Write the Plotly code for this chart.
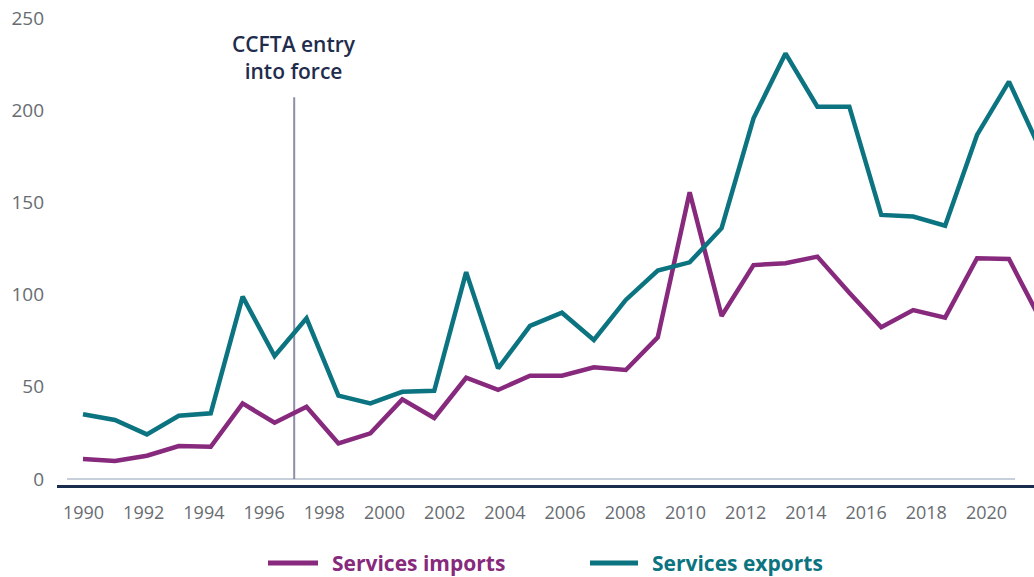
import plotly.graph_objects as go

# Canada–Chile trade in services, 1990–2020
years = list(range(1990, 2021))
services_imports = [10.8, 9.8, 12.6, 17.9, 17.5, 41.0, 30.5, 39.2, 19.3, 24.8,
                    43.2, 33.1, 54.9, 48.3, 56.0, 56.0, 60.6, 59.1, 76.8, 155.5,
                    88.4, 116.0, 117.0, 120.6, 101.0, 82.3, 91.6, 87.5, 119.7, 119.3,
                    86.0]
services_exports = [35.1, 32.0, 24.2, 34.3, 35.6, 98.9, 66.7, 87.1, 45.2, 41.0,
                    47.3, 47.8, 112.2, 60.0, 83.0, 90.2, 75.4, 97.1, 113.0, 117.5,
                    136.0, 195.6, 230.8, 201.9, 201.9, 143.2, 142.3, 137.4, 186.6, 215.5,
                    178.0]
tick_years = list(range(1990, 2021, 2))
y_ticks = [0, 50, 100, 150, 200, 250]
event_year = 1997
event_label = "CCFTA entry<br>into force"

PURPLE = "#87297c"
TEAL = "#0b7480"
NAVY = "#1b2d4f"
GREY = "#686c71"
FONT = "Open Sans"

W, H = 1034, 577
ML, MR, MT, MB = 57, 0, 0, 92
PW = W - ML - MR


def xp(px):
    """Horizontal pixel position -> paper fraction."""
    return (px - ML) / PW


def yp(py):
    """Vertical pixel position -> paper fraction."""
    return (H - MB - py) / (H - MT - MB)


fig = go.Figure()
fig.add_trace(go.Scatter(x=years, y=services_imports, mode="lines",
                         line=dict(color=PURPLE, width=4.5), name="Services imports",
                         showlegend=False))
fig.add_trace(go.Scatter(x=years, y=services_exports, mode="lines",
                         line=dict(color=TEAL, width=4.5), name="Services exports",
                         showlegend=False))

# thin baseline at zero
fig.add_shape(type="line", xref="paper", yref="y", x0=xp(67), x1=xp(1015), y0=0, y1=0,
              line=dict(color="#8fa2b6", width=1.2), layer="below")

# event marker on the labelled year axis
fig.add_shape(type="line", xref="x2", yref="y", x0=event_year, x1=event_year, y0=0, y1=207,
              line=dict(color="#8a8ea8", width=2), layer="below")
fig.add_annotation(x=event_year, xref="x2", y=yp(57), yref="paper", text=event_label,
                   showarrow=False, xanchor="center", yanchor="middle",
                   font=dict(family=FONT, size=21, color="#1f2c4c", weight=600))

# legend
legend_items = [("Services imports", PURPLE, 268, 318, 330),
                ("Services exports", TEAL, 590, 638, 650)]
for label, color, lx0, lx1, tx in legend_items:
    fig.add_shape(type="line", xref="paper", yref="paper", x0=xp(lx0), x1=xp(lx1),
                  y0=yp(563), y1=yp(563), line=dict(color=color, width=5))
    fig.add_annotation(x=xp(tx), y=yp(563), xref="paper", yref="paper", text=f"<b>{label}</b>",
                       showarrow=False, xanchor="left", yanchor="middle",
                       font=dict(family=FONT, size=21, color=color))

fig.update_layout(
    width=W, height=H,
    margin=dict(l=ML, r=MR, t=MT, b=MB),
    paper_bgcolor="white", plot_bgcolor="white",
    showlegend=False,
    xaxis=dict(range=[1989.1857, 2019.784], visible=False, fixedrange=True),
    xaxis2=dict(range=[1989.1196, 2021.578], overlaying="x", anchor="y", side="bottom",
                tickmode="array", tickvals=tick_years, ticktext=[str(t) for t in tick_years],
                showgrid=False, zeroline=False, showline=True, linecolor=NAVY, linewidth=3,
                ticks="", ticklabelstandoff=9,
                tickfont=dict(family=FONT, size=18, color=GREY)),
    yaxis=dict(range=[-3.25, 259.76], tickmode="array", tickvals=y_ticks,
               showgrid=False, zeroline=False, showline=False, ticks="",
               ticklabelstandoff=12,
               tickfont=dict(family=FONT, size=19, color=GREY)),
)

fig.write_html("out.html")
